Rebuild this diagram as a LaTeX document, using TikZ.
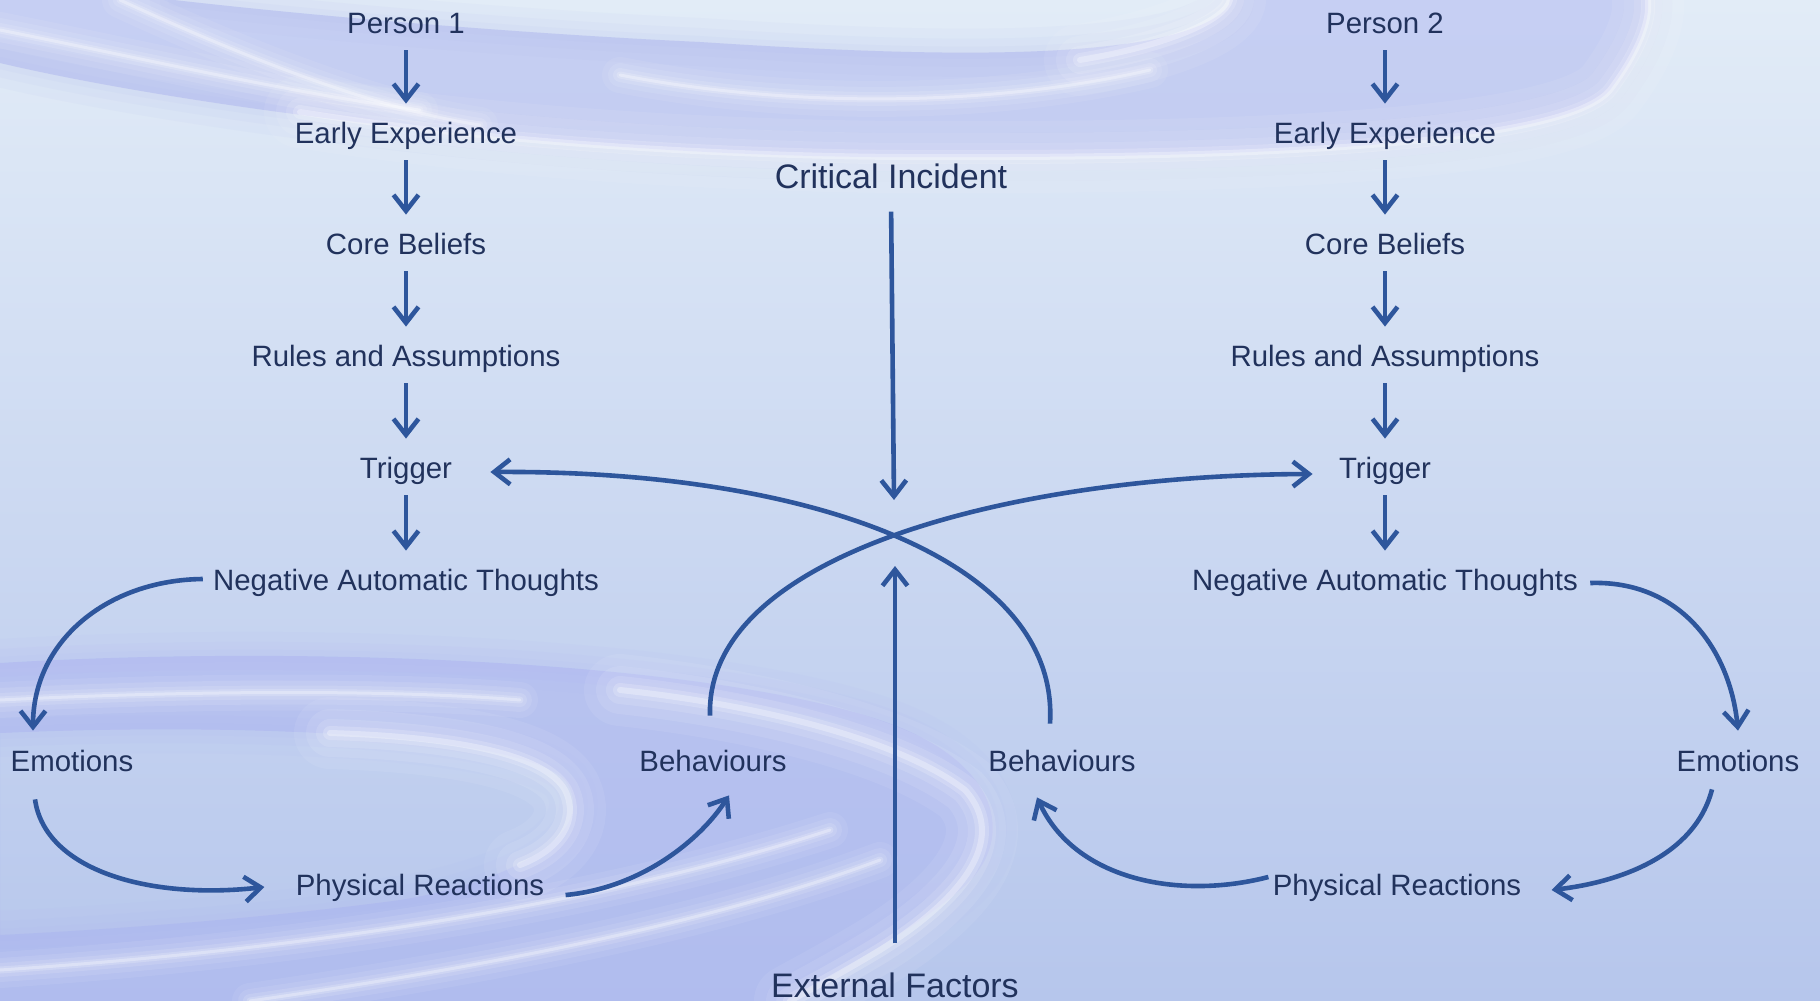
\documentclass[tikz,border=0pt]{standalone}
\usepackage{fontspec}
\setmainfont{Liberation Sans}
\usetikzlibrary{arrows.meta,calc}
\definecolor{txt}{RGB}{33,50,92}
\definecolor{arrc}{RGB}{46,86,156}
\definecolor{lav}{RGB}{172,180,240}
\definecolor{bgtop}{RGB}{226,236,247}
\definecolor{bgmid}{RGB}{214,228,244}
\definecolor{bgbot}{RGB}{182,198,236}
\begin{document}
\begin{tikzpicture}[x=0.5pt,y=-0.5pt,
  lbl/.style={text=txt, font=\fontsize{14.7}{17}\selectfont, text height=11pt, text depth=3pt, inner sep=2pt},
  big/.style={lbl, font=\fontsize{17}{20}\selectfont, text height=12.75pt, text depth=3.4pt},
  arr/.style={draw=arrc, line width=2.3pt, -{Straight Barb[length=8pt,width=12.5pt]}},
  glow/.style={draw=white, line cap=round},
  soft/.style={draw=lav, line cap=round}]
\useasboundingbox (0,0) rectangle (1820,1001);
% background
\shade[top color=bgtop, middle color=bgmid, bottom color=bgbot] (0,0) rectangle (1820,1001);
% top swirl
\def\topouter{(0,63) .. controls (200,110) and (600,160) .. (929,157)
  .. controls (1200,158) and (1560,150) .. (1610,90)
  .. controls (1640,50) and (1650,20) .. (1648,0)}
\def\topinner{(174,0) .. controls (350,20) and (550,35) .. (700,42)
  .. controls (900,55) and (1050,58) .. (1150,40)
  .. controls (1210,28) and (1230,10) .. (1230,0)}
\fill[lav, opacity=0.5, even odd rule]
  (0,0) -- \topouter -- cycle \topinner -- cycle;
\foreach \w/\o in {24/0.07,14/0.08,6/0.08}{
  \draw[soft, line width=\w pt, opacity=\o] \topouter;
  \draw[soft, line width=\w pt, opacity=\o] \topinner;
}
\foreach \w/\o in {36/0.07,24/0.09,14/0.12,7/0.18,3/0.3}{
  \draw[glow, line width=\w pt, opacity=\o] (300,112) .. controls (600,160) and (929,157) .. (929,157)
    .. controls (1200,158) and (1560,150) .. (1610,90)
    .. controls (1640,50) and (1650,20) .. (1648,0);
  \draw[glow, line width=\w pt, opacity=\o]
    (1080,60) .. controls (1170,45) and (1225,20) .. (1230,0);
  \draw[glow, line width=0.5*\w pt, opacity=\o]
    (120,0) .. controls (250,60) and (380,110) .. (480,125);
  \draw[glow, line width=0.5*\w pt, opacity=\o]
    (620,75) .. controls (800,110) and (1000,105) .. (1150,70);
  \draw[glow, line width=0.5*\w pt, opacity=\o]
    (0,30) .. controls (150,60) and (300,95) .. (420,110);
}
% bottom-left swirl
\def\botouter{(0,663) .. controls (300,645) and (700,660) .. (880,720)
  .. controls (1000,760) and (1020,840) .. (960,890)
  .. controls (900,940) and (820,980) .. (790,1001)}
\def\botinner{(0,733) .. controls (250,722) and (520,735) .. (565,780)
  .. controls (600,830) and (520,880) .. (400,900)
  .. controls (250,920) and (100,930) .. (0,935)}
\fill[lav, opacity=0.5, even odd rule]
  \botouter -- (0,1001) -- cycle \botinner -- cycle;
\foreach \w/\o in {24/0.07,14/0.08,6/0.08}{
  \draw[soft, line width=\w pt, opacity=\o] \botouter;
  \draw[soft, line width=\w pt, opacity=\o] \botinner;
}
\foreach \w/\o in {36/0.07,24/0.09,14/0.12,7/0.18,3/0.3}{
  \draw[glow, line width=\w pt, opacity=\o]
    (620,690) .. controls (760,705) and (900,740) .. (965,790)
    .. controls (1010,840) and (960,900) .. (880,950)
    .. controls (830,980) and (800,995) .. (790,1001);
  \draw[glow, line width=\w pt, opacity=\o]
    (330,733) .. controls (460,737) and (545,755) .. (565,790)
    .. controls (580,820) and (560,850) .. (520,865);
  \draw[glow, line width=0.5*\w pt, opacity=\o]
    (0,970) .. controls (300,950) and (600,905) .. (830,830);
  \draw[glow, line width=0.5*\w pt, opacity=\o]
    (250,1001) .. controls (500,965) and (720,920) .. (880,860);
  \draw[glow, line width=0.5*\w pt, opacity=\o]
    (0,700) .. controls (200,690) and (400,690) .. (520,700);
}
% nodes
\node[lbl] (p1) at (406,25) {Person 1};
\node[lbl] (ee1) at (406,135) {Early Experience};
\node[lbl] (cb1) at (406,246) {Core Beliefs};
\node[lbl] (ra1) at (406,358) {Rules and Assumptions};
\node[lbl] (tr1) at (406,470) {Trigger};
\node[lbl] (nat1) at (406,582) {Negative Automatic Thoughts};
\node[lbl] (p2) at (1385,25) {Person 2};
\node[lbl] (ee2) at (1385,135) {Early Experience};
\node[lbl] (cb2) at (1385,246) {Core Beliefs};
\node[lbl] (ra2) at (1385,358) {Rules and Assumptions};
\node[lbl] (tr2) at (1385,470) {Trigger};
\node[lbl] (nat2) at (1385,582) {Negative Automatic Thoughts};
\node[lbl] (em1) at (72,763) {Emotions};
\node[lbl] (pr1) at (420,887) {Physical Reactions};
\node[lbl] (beh1) at (713,763) {Behaviours};
\node[lbl] (beh2) at (1062,763) {Behaviours};
\node[lbl] (pr2) at (1397,887) {Physical Reactions};
\node[lbl] (em2) at (1738,763) {Emotions};
\node[big] (ci) at (891,179) {Critical Incident};
\node[big] (ef) at (895,988) {External Factors};
\coordinate (citip) at (894,500);
\coordinate (eftip) at (895,566);
% chains
\foreach \a/\b in {p1/ee1,ee1/cb1,cb1/ra1,ra1/tr1,tr1/nat1,p2/ee2,ee2/cb2,cb2/ra2,ra2/tr2,tr2/nat2}{
  \draw[arr, shorten <=3.5pt, shorten >=6.5pt] (\a.south) -- (\b.north);
}
\draw[arr, shorten <=6pt] (ci.south) -- (citip);
\draw[arr, shorten <=12pt] (ef.north) -- (eftip);
% left loop
\draw[arr] ($(nat1.west)+(-6,-3)$) .. controls +(-95,1) and +(0,-90) .. ($(em1.north)+(-39,-14)$);
\draw[arr] ($(em1.south)+(-37,18)$) .. controls +(10,71) and +(-115,13) .. ($(pr1.west)+(-27,0)$);
\draw[arr] ($(pr1.east)+(17,8)$) .. controls +(75,-7) and +(-29,45) .. ($(beh1.south)+(16,14)$);
% crossing
\draw[arr] ($(beh1.north)+(-3,-29)$) .. controls +(-5,-161) and +(-302,1) .. ($(tr2.west)+(-22,4)$);
\draw[arr] ($(beh2.north)+(-12,-21)$) .. controls +(10,-164) and +(319.5,-2) .. ($(tr1.east)+(34,2)$);
% right loop
\draw[arr] ($(nat2.east)+(8,1)$) .. controls +(90,-3) and +(-8,-81) .. ($(em2.north)+(0,-14)$);
\draw[arr] ($(em2.south)+(-26,8)$) .. controls +(-17,66) and +(69,-8) .. ($(pr2.east)+(26,3)$);
\draw[arr] ($(pr2.west)+(0,-10)$) .. controls +(-89,23) and +(38,83) .. ($(beh2.south)+(-25,16)$);
\end{tikzpicture}
\end{document}
